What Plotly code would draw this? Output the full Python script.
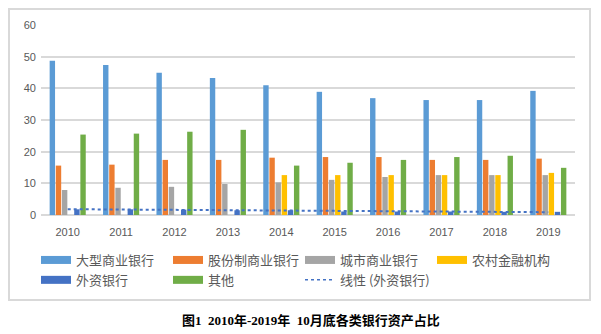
import numpy as np
import plotly.graph_objects as go

years = ["2010", "2011", "2012", "2013", "2014", "2015", "2016", "2017", "2018", "2019"]
big_banks = [48.7, 47.4, 44.9, 43.3, 41.0, 38.9, 36.9, 36.3, 36.3, 39.2]
joint_stock = [15.6, 15.9, 17.4, 17.4, 18.1, 18.3, 18.3, 17.4, 17.4, 17.8]
city_banks = [7.9, 8.6, 8.9, 9.8, 10.3, 11.1, 12.0, 12.6, 12.6, 12.6]
rural = [None, None, None, None, 12.6, 12.6, 12.6, 12.6, 12.6, 13.3]
foreign = [1.8, 1.8, 1.7, 1.5, 1.5, 1.1, 1.1, 1.1, 1.0, 1.0]
others = [25.4, 25.7, 26.3, 26.9, 15.6, 16.5, 17.4, 18.3, 18.7, 14.9]

names = ["大型商业银行", "股份制商业银行", "城市商业银行", "农村金融机构", "外资银行", "其他"]
colors = ["#5B9BD5", "#ED7D31", "#A5A5A5", "#FFC000", "#4472C4", "#70AD47"]
series = [big_banks, joint_stock, city_banks, rural, foreign, others]
trend_name = "线性 (外资银行)"

# linear trendline of the foreign-bank series (as Excel computes it)
idx = np.arange(1, len(years) + 1)
slope, intercept = np.polyfit(idx, np.array(foreign, dtype=float), 1)
trend = list(intercept + slope * idx)

fig = go.Figure()
for n, c, s in zip(names, colors, series):
    fig.add_trace(go.Bar(x=years, y=s, name=n, marker=dict(color=c, line=dict(width=0)),
                         showlegend=False))

fig.add_trace(go.Scatter(x=years, y=trend, mode="lines", name=trend_name,
                         line=dict(color="#4472C4", width=2, dash="dot"), showlegend=False))

# legend entries (wide swatches like the original)
for n, c in zip(names, colors):
    fig.add_trace(go.Scatter(x=[None], y=[None], mode="lines", name=n,
                             line=dict(color=c, width=8)))
fig.add_trace(go.Scatter(x=[None], y=[None], mode="lines", name=trend_name,
                         line=dict(color="#4472C4", width=1.5, dash="dot")))

L, T, W, H = 41, 25, 534, 190
def px(x):
    return (x - L) / W
def py(y):
    return (T + H - y) / H

fig.update_layout(
    width=601, height=334,
    margin=dict(l=L, r=601 - L - W, t=T, b=334 - T - H),
    paper_bgcolor="white", plot_bgcolor="white",
    barmode="group", bargap=0.31, bargroupgap=0.12,
    font=dict(family="Noto Sans CJK SC", color="#595959"),
    showlegend=True,
    legend=dict(orientation="h", x=px(36), xanchor="left", y=py(245), yanchor="top",
                entrywidth=87, entrywidthmode="pixels", traceorder="normal",
                font=dict(size=13, color="#595959", family="Noto Sans CJK SC"),
                bgcolor="rgba(0,0,0,0)", itemwidth=30),
    xaxis=dict(showgrid=False, showline=False, ticks="", ticklabelstandoff=9,
               tickfont=dict(size=11, color="#595959", family="Liberation Sans")),
    yaxis=dict(range=[0, 60], dtick=10, showgrid=True, gridcolor="#D9D9D9", gridwidth=1.5,
               zeroline=True, zerolinecolor="#D9D9D9", zerolinewidth=1.5,
               showline=False, ticks="", ticklabelstandoff=4,
               tickfont=dict(size=11, color="#595959", family="Liberation Sans")),
    shapes=[dict(type="rect", xref="paper", yref="paper",
                 x0=px(9), x1=px(590), y0=py(300), y1=py(9),
                 line=dict(color="#D9D9D9", width=2), fillcolor="rgba(0,0,0,0)", layer="below")],
    annotations=[dict(text="<b>图1  2010年-2019年  10月底各类银行资产占比</b>", xref="paper", yref="paper",
                      x=px(311), y=py(320), xanchor="center", yanchor="middle", showarrow=False,
                      font=dict(size=13, color="black", family="Liberation Serif, Noto Sans CJK SC"))],
)

fig.write_html("out.html")
